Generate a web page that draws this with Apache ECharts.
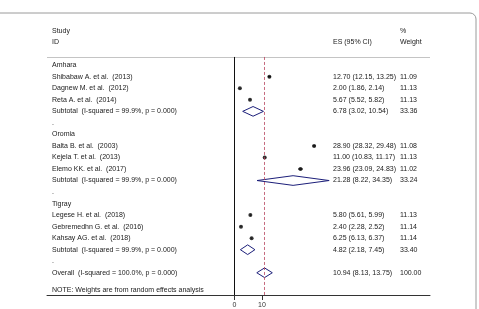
<!DOCTYPE html>
<html>
<head>
<meta charset="utf-8">
<style>
  html, body { margin: 0; padding: 0; background: #fff; }
  #forest { width: 479px; height: 309px; }
</style>
<script src="https://cdn.jsdelivr.net/npm/echarts@6/dist/echarts.min.js"></script>
</head>
<body>
<div id="forest"></div>
<script>
// rows of the forest plot, top to bottom
const rowLabels = [
    'Amhara',
    'Shibabaw A. et al.  (2013)',
    'Dagnew M. et al.  (2012)',
    'Reta A. et al.  (2014)',
    'Subtotal  (I-squared = 99.9%, p = 0.000)',
    '.',
    'Oromia',
    'Balta B. et al.  (2003)',
    'Kejela T. et al.  (2013)',
    'Elemo KK. et al.  (2017)',
    'Subtotal  (I-squared = 99.9%, p = 0.000)',
    '.',
    'Tigray',
    'Legese H. et al.  (2018)',
    'Gebremedhn G. et al.  (2016)',
    'Kahsay AG. et al.  (2018)',
    'Subtotal  (I-squared = 99.9%, p = 0.000)',
    '.',
    'Overall  (I-squared = 100.0%, p = 0.000)'
]
const rowES = [null, 12.70, 2.00, 5.67, 6.78, null, null, 28.90, 11.00, 23.96, 21.28, null, null, 5.80, 2.40, 6.25, 4.82, null, 10.94]
const rowLo = [null, 12.15, 1.86, 5.52, 3.02, null, null, 28.32, 10.83, 23.09, 8.22, null, null, 5.61, 2.28, 6.13, 2.18, null, 8.13]
const rowHi = [null, 13.25, 2.14, 5.82, 10.54, null, null, 29.48, 11.17, 24.83, 34.35, null, null, 5.99, 2.52, 6.37, 7.45, null, 13.75]
const rowWeight = [null, 11.09, 11.13, 11.13, 33.36, null, null, 11.08, 11.13, 11.02, 33.24, null, null, 11.13, 11.14, 11.14, 33.40, null, 100.00]
const pooledRows = [4, 10, 16, 18]
const overallES = 10.94
const xTicks = [0, 10]
const noteText = 'NOTE: Weights are from random effects analysis'

// layout in axis units
const xMin = -67.9, xMax = 70.9
const yMin = -3.9, yMax = 19.93
const headerRow = -0.72
const noteRow = 19.5

const studyPoints = []
const pooledItems = []
rowES.forEach((v, i) => {
    if (v === null) return
    if (pooledRows.includes(i)) pooledItems.push([v, rowLo[i], rowHi[i], i])
    else studyPoints.push([v, i, rowLo[i], rowHi[i]])
})

const leftLabels = { '-3': 'Study', '-2': 'ID' }
leftLabels[String(noteRow)] = noteText
rowLabels.forEach((t, i) => { leftLabels[String(i)] = t })

const rightLabels = { '-3': '{a|}{b|%}', '-2': '{a|ES (95% CI)}{b|Weight}' }
rowES.forEach((v, i) => {
    if (v === null) return
    rightLabels[String(i)] = '{a|' + v.toFixed(2) + ' (' + rowLo[i].toFixed(2) + ', ' + rowHi[i].toFixed(2) + ')}{b|' + rowWeight[i].toFixed(2) + '}'
})
const labelRows = [-3, -2].concat(rowLabels.map((t, i) => i), [noteRow])

const textStyle = { fontFamily: 'Liberation Sans', fontSize: 7, color: '#1a1a1a' }

const chart = echarts.init(document.getElementById('forest'))
chart.setOption({
    animation: false,
    backgroundColor: '#fff',
    graphic: [{
        type: 'rect',
        shape: { x: -10, y: 13, width: 486, height: 330, r: 6 },
        style: { fill: 'none', stroke: '#9a9a9a', lineWidth: 1 },
        silent: true
    }],
    grid: { left: 47, right: 49, top: 20.3, bottom: 13.7 },
    xAxis: {
        type: 'value',
        min: xMin,
        max: xMax,
        axisLine: { show: true, onZero: false, lineStyle: { color: '#333', width: 1 } },
        axisTick: { show: true, customValues: xTicks, length: 5, lineStyle: { color: '#333' } },
        axisLabel: { customValues: xTicks, margin: 7, ...textStyle, color: '#333' },
        splitLine: { show: false }
    },
    yAxis: [{
        type: 'value',
        inverse: true,
        min: yMin,
        max: yMax,
        position: 'left',
        axisLine: { show: false },
        axisTick: { show: false },
        splitLine: { show: false },
        axisLabel: {
            inside: true,
            margin: 5,
            customValues: labelRows,
            formatter: (v) => leftLabels[String(v)] || '',
            ...textStyle
        }
    }, {
        type: 'value',
        inverse: true,
        min: yMin,
        max: yMax,
        position: 'right',
        offset: -97,
        axisLine: { show: false },
        axisTick: { show: false },
        splitLine: { show: false },
        axisLabel: {
            margin: 0,
            align: 'left',
            customValues: labelRows,
            formatter: (v) => rightLabels[String(v)] || '',
            rich: {
                a: { width: 67, ...textStyle },
                b: { ...textStyle }
            }
        }
    }],
    series: [
        {
            // confidence intervals of single studies
            type: 'custom',
            data: studyPoints.map(p => [p[2], p[3], p[1]]),
            renderItem: (params, api) => {
                const a = api.coord([api.value(0), api.value(2)])
                const b = api.coord([api.value(1), api.value(2)])
                return {
                    type: 'line',
                    shape: { x1: a[0], y1: a[1], x2: b[0], y2: b[1] },
                    style: { stroke: '#000', lineWidth: 1 }
                }
            },
            silent: true
        },
        {
            type: 'scatter',
            data: studyPoints.map(p => [p[0], p[1]]),
            symbol: 'circle',
            symbolSize: 4,
            itemStyle: { color: '#000' },
            silent: true,
            markLine: {
                silent: true,
                symbol: 'none',
                label: { show: false },
                data: [
                    [{ coord: [xMin, headerRow], lineStyle: { color: '#c4c4c4', width: 1, type: 'solid' } }, { coord: [xMax, headerRow] }],
                    [{ coord: [0, headerRow], lineStyle: { color: '#111', width: 1, type: 'solid' } }, { coord: [0, yMax] }],
                    [{ coord: [overallES, headerRow], lineStyle: { color: '#b8455e', width: 0.8, type: [3, 2] } }, { coord: [overallES, yMax] }]
                ]
            }
        },
        {
            // pooled estimates as diamonds
            type: 'custom',
            data: pooledItems,
            renderItem: (params, api) => {
                const es = api.value(0), lo = api.value(1), hi = api.value(2), row = api.value(3)
                return {
                    type: 'polygon',
                    shape: {
                        points: [
                            api.coord([lo, row]),
                            api.coord([es, row - 0.42]),
                            api.coord([hi, row]),
                            api.coord([es, row + 0.42])
                        ]
                    },
                    style: { fill: 'none', stroke: '#1c1f7a', lineWidth: 1 }
                }
            },
            silent: true
        }
    ]
})
</script>
</body>
</html>
